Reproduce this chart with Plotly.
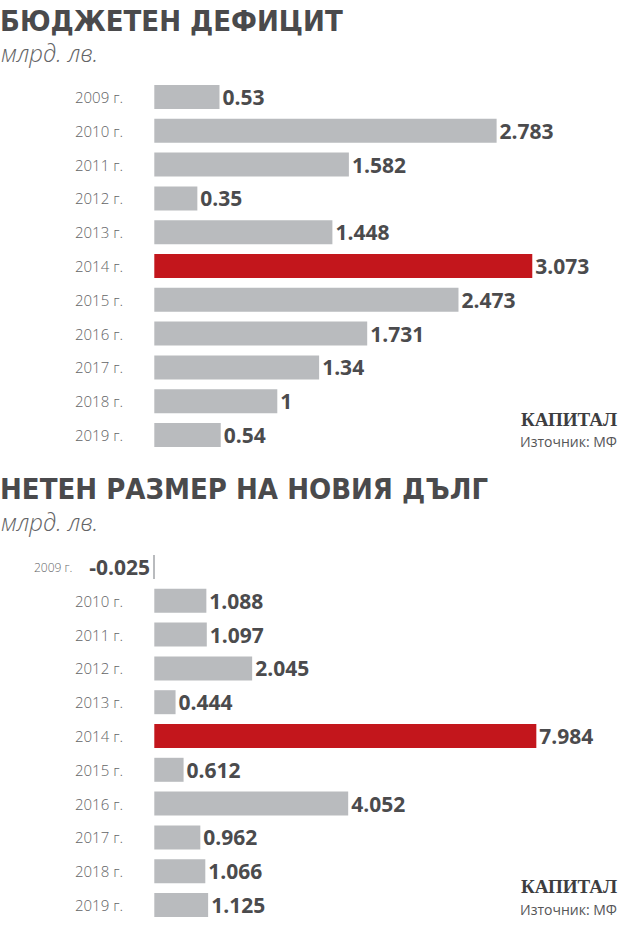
import plotly.graph_objects as go

years = ["2009 г.", "2010 г.", "2011 г.", "2012 г.", "2013 г.", "2014 г.",
         "2015 г.", "2016 г.", "2017 г.", "2018 г.", "2019 г."]
deficit = [0.53, 2.783, 1.582, 0.35, 1.448, 3.073, 2.473, 1.731, 1.34, 1, 0.54]
new_debt = [-0.025, 1.088, 1.097, 2.045, 0.444, 7.984, 0.612, 4.052, 0.962, 1.066, 1.125]
highlight = "2014 г."

title1 = "БЮДЖЕТЕН ДЕФИЦИТ"
title2 = "НЕТЕН РАЗМЕР НА НОВИЯ ДЪЛГ"
unit = "млрд. лв."
brand = "КАПИТАЛ"
source = "Източник: МФ"

W, H = 620, 925
GRAY = "#b9bbbe"
RED = "#c3161c"
DARK = "#4b4b4d"
LIGHT = "#636466"
TITLE_FONT = "Liberation Sans Narrow, DejaVu Sans Condensed, Roboto, sans-serif"
BODY_FONT = "Open Sans, sans-serif"


def py(px):
    return 1 - px / H


def fmt(v):
    return f"{v:g}"


fig = go.Figure()

panels = [
    dict(vals=deficit, xa="x", ya="y", xaxis="xaxis", yaxis="yaxis",
         dom=[py(451.9), py(80.1)], scale=123.0),
    dict(vals=new_debt, xa="x2", ya="y2", xaxis="xaxis2", yaxis="yaxis2",
         dom=[py(921.9), py(550.1)], scale=47.85),
]
x0 = 154.3

annotations = []
for p in panels:
    colors = [RED if y == highlight else GRAY for y in years]
    fig.add_trace(go.Bar(
        x=p["vals"], y=years, orientation="h", xaxis=p["xa"], yaxis=p["ya"],
        marker=dict(color=colors, line=dict(width=0)),
        text=[fmt(v) for v in p["vals"]], textposition="outside",
        textfont=dict(family=BODY_FONT, size=21, color=DARK, weight=700),
        constraintext="none", cliponaxis=False, showlegend=False,
        hoverinfo="skip",
    ))
    rng = [-x0 / p["scale"], (W - x0) / p["scale"]]
    fig.update_layout(**{
        p["xaxis"]: dict(domain=[0, 1], range=rng, visible=False,
                         anchor=p["ya"], fixedrange=True),
        p["yaxis"]: dict(domain=p["dom"], range=[10.5, -0.5], type="category",
                         visible=False, anchor=p["xa"], fixedrange=True),
    })
    for y, v in zip(years, p["vals"]):
        neg = v < 0
        annotations.append(dict(
            x=0, y=y, xref=p["xa"], yref=p["ya"], text=y, showarrow=False,
            xanchor="right", yanchor="middle",
            xshift=-80 if neg else -29,
            font=dict(family=BODY_FONT, size=12 if neg else 15, color=LIGHT, weight=300),
        ))

# titles, units, branding
for t, ty, uy, by, sy in [(title1, 21, 53, 419, 441), (title2, 489, 521, 886, 909)]:
    annotations.append(dict(x=0, y=py(ty), xref="paper", yref="paper", text=t,
                            showarrow=False, xanchor="left", yanchor="middle", xshift=-2,
                            font=dict(family=TITLE_FONT, size=29, color="#4a4a4c", weight=700)))
    annotations.append(dict(x=0, y=py(uy), xref="paper", yref="paper", text=unit,
                            showarrow=False, xanchor="left", yanchor="middle", xshift=-1,
                            font=dict(family=BODY_FONT, size=24, color=LIGHT, weight=300, style="italic")))
    annotations.append(dict(x=618 / W, y=py(by), xref="paper", yref="paper", text=brand,
                            showarrow=False, xanchor="right", yanchor="middle", borderpad=0,
                            font=dict(family="Liberation Serif, DejaVu Serif, serif", size=19,
                                      color="#3d3d3f", weight=700)))
    annotations.append(dict(x=618 / W, y=py(sy), xref="paper", yref="paper", text=source,
                            showarrow=False, xanchor="right", yanchor="middle", borderpad=0,
                            font=dict(family=BODY_FONT, size=14, color="#555557", weight=400)))

fig.update_layout(
    width=W, height=H, margin=dict(l=0, r=0, t=0, b=0),
    paper_bgcolor="white", plot_bgcolor="white",
    bargap=0.29, annotations=annotations, showlegend=False,
)

fig.write_html("out.html")
